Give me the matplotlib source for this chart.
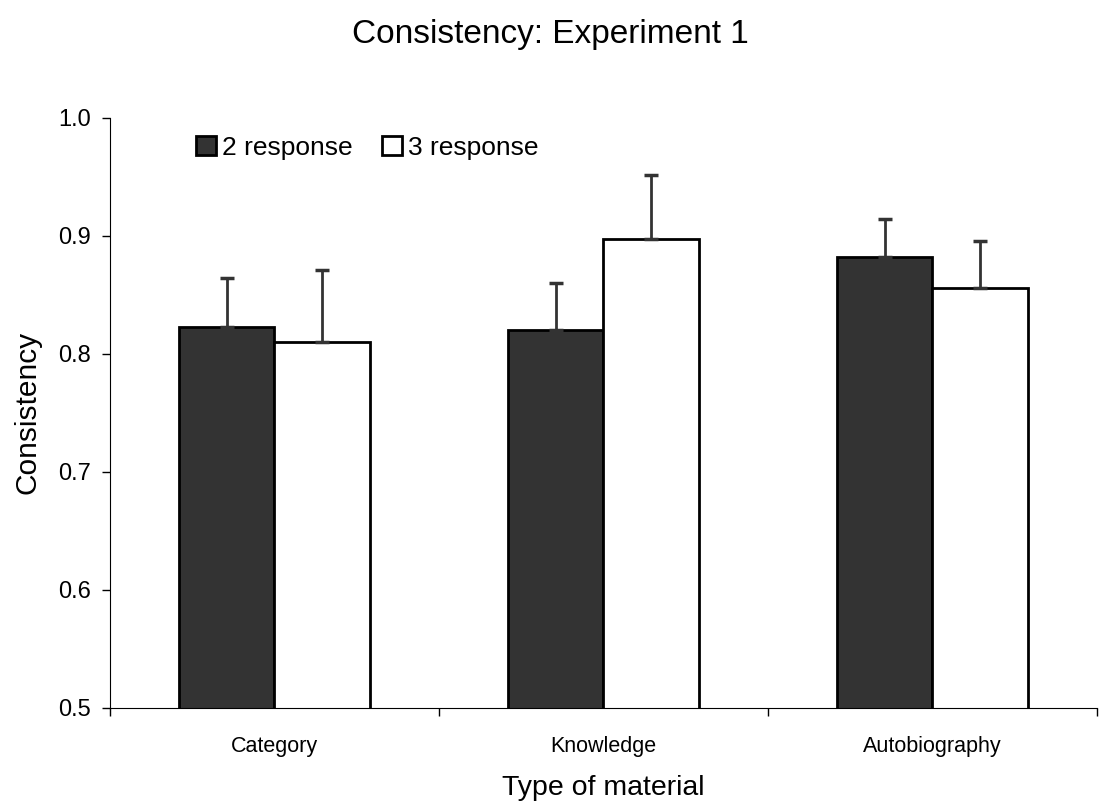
import matplotlib
matplotlib.use("Agg")
import matplotlib.pyplot as plt
import numpy as np

plt.rcParams["font.family"] = ["Liberation Sans", "DejaVu Sans"]

categories = ["Category", "Knowledge", "Autobiography"]
two_resp = [0.823, 0.820, 0.882]
two_err = [0.041, 0.040, 0.032]
three_resp = [0.810, 0.897, 0.856]
three_err = [0.061, 0.055, 0.040]

fig = plt.figure(figsize=(11, 8.08), dpi=100)
ax = fig.add_axes([0.1, 0.124, 0.897, 0.73])

x = np.arange(len(categories)) + 0.5
w = 0.29
err_kw = dict(ecolor="#333333", elinewidth=2, capsize=5, capthick=2.5)
ax.bar(x - w / 2, two_resp, w, bottom=0, color="#333333", edgecolor="black",
       linewidth=2, yerr=[np.zeros(3), two_err], error_kw=err_kw, label="2 response")
ax.bar(x + w / 2, three_resp, w, bottom=0, color="white", edgecolor="black",
       linewidth=2, yerr=[np.zeros(3), three_err], error_kw=err_kw, label="3 response")

ax.set_ylim(0.5, 1.0)
ax.set_xlim(0, 3)
ax.set_yticks([0.5, 0.6, 0.7, 0.8, 0.9, 1.0])
ax.set_yticklabels(["0.5", "0.6", "0.7", "0.8", "0.9", "1.0"], fontsize=17)
ax.set_xticks([0, 1, 2, 3])
ax.set_xticklabels([])
ax.set_xticks(x, minor=True)
ax.set_xticklabels(categories, minor=True, fontsize=15.5)
ax.tick_params(axis="x", which="minor", length=0, pad=20)
ax.tick_params(axis="x", which="major", length=6, direction="out", width=1)
ax.tick_params(axis="y", length=6, direction="out", width=1, pad=8)

for s in ["top", "right"]:
    ax.spines[s].set_visible(False)

ax.set_ylabel("Consistency", fontsize=21.5, labelpad=12)
ax.set_xlabel("Type of material", fontsize=20.5, labelpad=13)
fig.suptitle("Consistency: Experiment 1", fontsize=24, y=0.977)

ax.legend(ncol=2, frameon=False, loc="upper left", bbox_to_anchor=(0.063, 1.01),
          fontsize=19, handlelength=0.75, handleheight=0.75, handletextpad=0.25,
          columnspacing=1.1)

fig.savefig("out.png", dpi=100, facecolor="white")
